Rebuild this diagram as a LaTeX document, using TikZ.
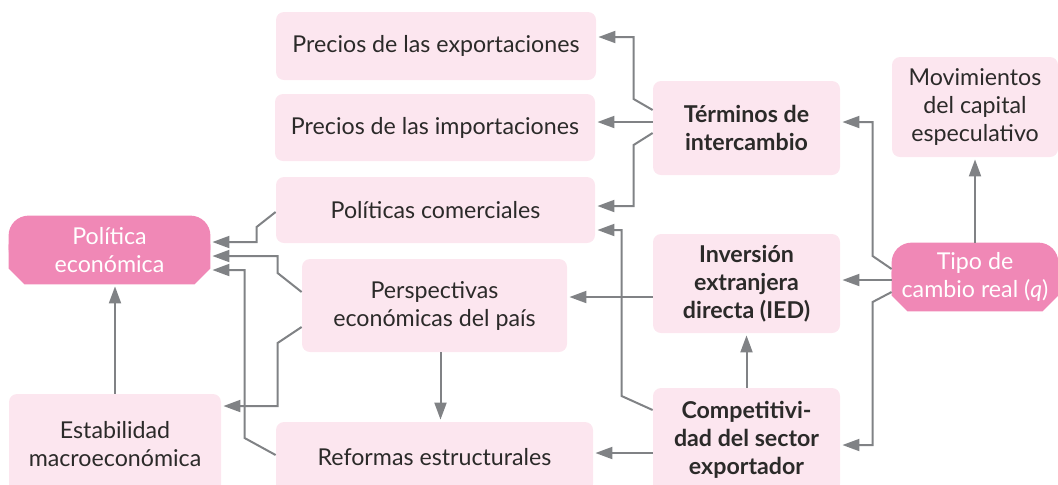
\documentclass[tikz,border=0pt]{standalone}
\usepackage{fontspec}
\setmainfont{Lato}
\usetikzlibrary{arrows.meta,calc,backgrounds}
\definecolor{Blush}{HTML}{FCE6EF}
\definecolor{Fuchsia}{HTML}{F088B6}
\definecolor{Slate}{HTML}{808285}
\definecolor{Ink}{HTML}{2B2A29}

\begin{document}
\begin{tikzpicture}[x=0.5pt,y=-0.5pt,every node/.style={font=\fontsize{11.6}{14}\selectfont,text=Ink,align=center},box/.style={fill=Blush,rounded corners=4pt,inner sep=0pt},keybox/.style={box,font=\fontsize{11.6}{14}\selectfont\bfseries},tab/.style={text=white,inner sep=0pt},link/.style={-{Triangle[length=8.5pt,width=6pt]},draw=Slate,line width=1pt,shorten >=1pt}]
\useasboundingbox (0,0) rectangle (1058,484);
\clip (0,0) rectangle (1058,484);
\node[box,minimum width=160pt,minimum height=34pt] (prex) at (436,46) {Precios de las exportaciones};
\node[box,minimum width=160pt,minimum height=33.5pt] (prim) at (435,127.5) {Precios de las importaciones};
\node[box,minimum width=159.5pt,minimum height=33pt] (polc) at (435.5,210) {Políticas comerciales};
\node[keybox,minimum width=93.5pt,minimum height=47pt] (term) at (746.5,128) {Términos de\\intercambio};
\node[box,minimum width=83pt,minimum height=50pt] (movi) at (975,107) {Movimientos\\del capital\\especulativo};
\node[keybox,minimum width=93.5pt,minimum height=49.5pt] (ied) at (746.5,283.5) {Inversión\\extranjera\\directa (IED)};
\node[keybox,minimum width=93.5pt,minimum height=52pt] (comp) at (746.5,440) {Competitivi-\\dad del sector\\exportador};
\node[tab,minimum width=83pt,minimum height=34pt] (tipo) at (975,277) {Tipo de\\cambio real (\textit{q})};
\node[tab,minimum width=100.5pt,minimum height=34pt] (pole) at (109.5,250) {Política\\económica};
\node[box,minimum width=132.5pt,minimum height=46.5pt] (pers) at (434.5,305.5) {Perspectivas\\económicas del país};
\node[box,minimum width=158.5pt,minimum height=35pt] (refo) at (434.5,457) {Reformas estructurales};
\node[box,minimum width=106pt,minimum height=50pt] (esta) at (115,444) {Estabilidad\\macroeconómica};
\begin{scope}[on background layer]
\foreach \n in {pole,tipo}{
\fill[Fuchsia,rounded corners=10pt] (\n.north west) rectangle ($(\n.south east)+(0,-16)$);
\fill[Fuchsia] ($(\n.south west)+(0,-40)$) -- ($(\n.south west)+(0,-16)$) -- ($(\n.south west)+(16,0)$) -- ($(\n.south east)+(-16,0)$) -- ($(\n.south east)+(0,-16)$) -- ($(\n.south east)+(0,-40)$) -- cycle;
}
\end{scope}
\draw[link] ($(term.west)+(0,-18)$) -- ++(-19,-11) |- ($(prex.east)+(0,-9)$);
\draw[link] ($(term.west)+(0,-6)$) -- ($(prim.east)+(0,-5.5)$);
\draw[link] ($(term.west)+(0,5)$) -- ++(-19,12) |- ($(polc.east)+(0,-4)$);
\draw[link] ($(tipo.west)+(0,-8)$) -- ++(-19,-13) |- ($(term.east)+(0,-6)$);
\draw[link] ($(tipo.west)+(0,3)$) -- ($(ied.east)+(0,-3.5)$);
\draw[link] ($(tipo.west)+(0,15)$) -- ++(-19,10) |- ($(comp.east)+(0,5)$);
\draw[link] (tipo.north) -- (movi.south);
\draw[link] (comp.north) -- (ied.south);
\draw[link] ($(comp.west)+(0,13)$) -- ($(refo.east)+(0,-4)$);
\draw[link] ($(comp.west)+(0,-30)$) -- ++(-31,-14) |- ($(polc.east)+(0,20)$);
\draw[link] ($(ied.west)+(0,13.5)$) -- ($(pers.east)+(0,-8.5)$);
\draw[link] ($(polc.west)+(0,2)$) -- ++(-19,15) |- ($(pole.east)+(0,-8)$);
\draw[link] ($(pers.west)+(0,-13.5)$) -- ++(-24,-19) |- ($(pole.east)+(0,6)$);
\draw[link] ($(refo.west)+(0,-2)$) -- ++(-31,-17) |- ($(pole.east)+(0,20)$);
\draw[link] ($(pers.west)+(0,21.5)$) -- ++(-24,16) |- ($(esta.east)+(0,-38)$);
\draw[link] (esta.north) -- (esta.north |- pole.south);
\draw[link] ([xshift=3pt]pers.south) -- ([xshift=3pt]refo.north);
\end{tikzpicture}
\end{document}
